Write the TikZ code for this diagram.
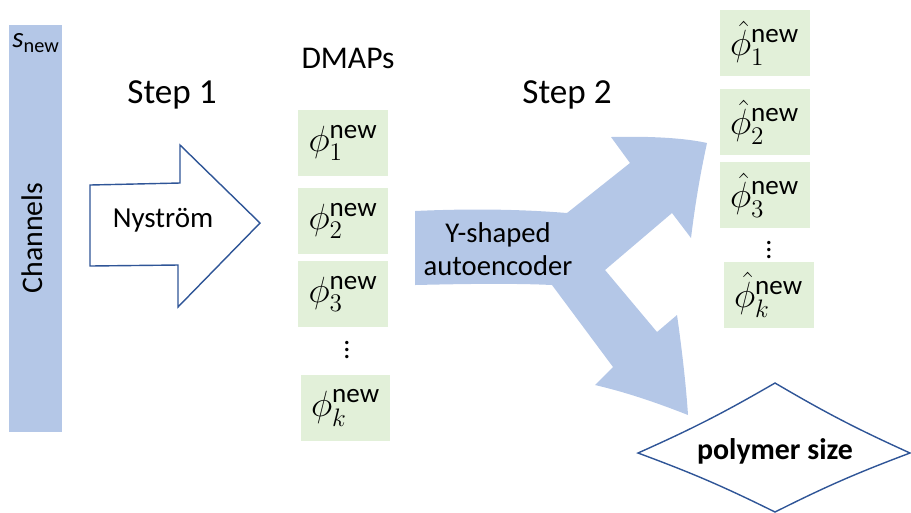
\documentclass[tikz,border=0pt]{standalone}
\usepackage{amsmath}
\usepackage{fontspec}
\setmainfont{Carlito}

\definecolor{chanblue}{HTML}{B4C7E7}
\definecolor{boxgreen}{HTML}{E2F0D9}
\definecolor{linedark}{HTML}{2F5597}

\begin{document}
\begin{tikzpicture}[x=0.02cm, y=-0.02cm,
        phibox/.style={fill=boxgreen, minimum width=1.8cm, minimum height=1.32cm,
            inner sep=0pt, font=\fontsize{22}{26}\selectfont},
        steplabel/.style={font=\fontsize{20}{24}\selectfont},
        dotsnode/.style={inner sep=0pt, font=\fontsize{16}{18}\selectfont}]
        \useasboundingbox (0, 0) rectangle (911, 512);

        % 左侧的通道条
        \node[fill=chanblue, minimum width=1.06cm, minimum height=8.14cm, inner sep=0pt]
            (chan) at (35.5, 228.5) {};
        \node[font=\fontsize{16.5}{19}\selectfont] (snew) at (36, 43) {$\textit{s}_{\text{new}}$};
        \node[rotate=90, font=\fontsize{17}{20}\selectfont] (chanlabel) at (32, 238) {Channels};

        % 第一步: Nyström 箭头
        \node[steplabel] (step1) at (172, 95) {Step 1};
        \draw[linedark, line width=0.8pt, fill=white]
            (90, 185) -- (180, 183) -- (180, 145) -- (260, 223)
            -- (178, 307) -- (178, 265) -- (90, 266) -- cycle;
        \node[font=\fontsize{16.5}{20}\selectfont] (nys) at (163, 220) {Nyström};

        % DMAPs 一列
        \node[font=\fontsize{18}{21}\selectfont] (dmaps) at (348, 58) {DMAPs};
        \node[phibox] (phi1) at (343, 143) {$\phi_1^{\text{new}}$};
        \node[phibox] (phi2) at (343, 221) {$\phi_2^{\text{new}}$};
        \node[phibox] (phi3) at (343, 294) {$\phi_3^{\text{new}}$};
        \node[dotsnode] (dots1) at (347, 345) {$\vdots$};
        \node[phibox] (phik) at (345.5, 408) {$\phi_k^{\text{new}}$};

        % 第二步: Y 形箭头
        \node[steplabel] (step2) at (567, 95) {Step 2};
        \fill[chanblue] (415, 211) .. controls (480, 208) and (530, 210) .. (567, 213)
            -- (630, 163) -- (611, 137)
            .. controls (650, 136) and (685, 138) .. (707, 143)
            .. controls (700, 175) and (695, 205) .. (691, 238)
            -- (672, 213) -- (605, 270) -- (657, 332) -- (677, 315)
            .. controls (682, 350) and (686, 385) .. (688, 415)
            .. controls (655, 402) and (625, 392) .. (595, 385)
            -- (613, 367) -- (552, 285)
            .. controls (510, 283) and (460, 284) .. (415, 285) -- cycle;
        \node[align=center, font=\fontsize{16.3}{19}\selectfont] (yae) at (498, 249)
            {Y-shaped\\autoencoder};

        % 重构的 DMAPs
        \node[phibox] (hat1) at (764.5, 43) {$\hat{\phi}_1^{\text{new}}$};
        \node[phibox] (hat2) at (764.5, 122) {$\hat{\phi}_2^{\text{new}}$};
        \node[phibox] (hat3) at (764.5, 195) {$\hat{\phi}_3^{\text{new}}$};
        \node[dotsnode] (dots2) at (769, 245) {$\vdots$};
        \node[phibox] (hatk) at (768.5, 295) {$\hat{\phi}_k^{\text{new}}$};

        % 菱形: 聚合物大小
        \draw[linedark, line width=0.8pt]
            (638, 453) to[bend right=3] (775, 383) to[bend right=3] (910, 453)
            to[bend right=3] (775, 512) to[bend right=3] cycle;
        \node[font=\bfseries\fontsize{17}{20}\selectfont] (psize) at (775, 451) {polymer size};
\end{tikzpicture}
\end{document}
